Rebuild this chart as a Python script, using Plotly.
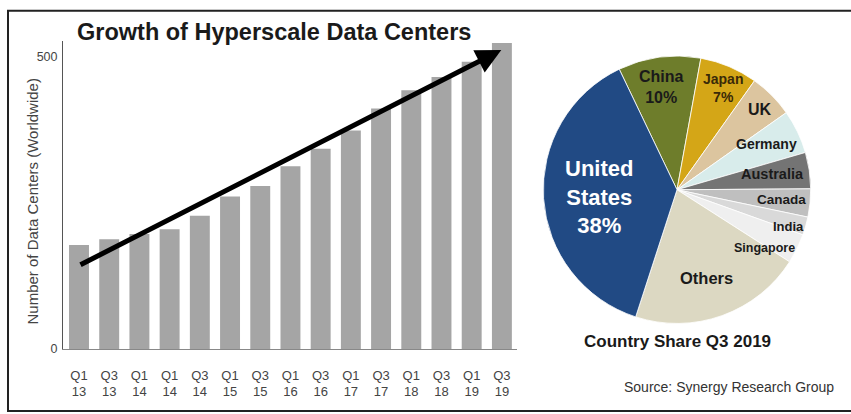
import plotly.graph_objects as go

# ---- data ----
quarters = ["Q1<br>13", "Q3<br>13", "Q1<br>14", "Q1<br>14", "Q3<br>14", "Q1<br>15", "Q3<br>15",
            "Q1<br>16", "Q3<br>16", "Q1<br>17", "Q3<br>17", "Q1<br>18", "Q3<br>18", "Q1<br>19", "Q3<br>19"]
data_centers = [178, 188, 197, 205, 228, 261, 279, 313, 343, 374, 412, 443, 466, 492, 524]
trend_start = 143
trend_end = 512

countries = ["China", "Japan", "UK", "Germany", "Australia", "Canada", "India", "Singapore", "Others", "United States"]
shares = [10, 7, 5.4, 5.3, 4.4, 3.4, 2.2, 3.6, 21.0, 38]
pie_colors = ["#6e7d2b", "#d4a617", "#dcc59f", "#d8eceb", "#747474", "#bfbfbf", "#d9d9d9",
              "#efefef", "#dcd8c2", "#214a84"]

FONT = "Liberation Sans, Arial, sans-serif"
W, H = 851, 414

x_idx = list(range(len(quarters)))

fig = go.Figure()
fig.add_trace(go.Bar(x=x_idx, y=data_centers, marker=dict(color="#a5a5a5", line=dict(width=0)),
                     width=0.66, xaxis="x", yaxis="y", showlegend=False, hoverinfo="y"))

fig.add_trace(go.Pie(labels=countries, values=shares, sort=False, direction="clockwise",
                     rotation=-25.6, marker=dict(colors=pie_colors, line=dict(color="white", width=0.8)),
                     textinfo="none", showlegend=False,
                     domain=dict(x=[541 / W, 813 / W], y=[(H - 329) / H, (H - 57) / H])))

fig.update_layout(
    width=W, height=H, margin=dict(l=0, r=0, t=0, b=0),
    paper_bgcolor="white", plot_bgcolor="white",
    font=dict(family=FONT, color="#444"),
    xaxis=dict(domain=[63 / W, 517 / W], range=[-0.53, 14.5], tickmode="array",
               tickvals=x_idx, ticktext=quarters, showgrid=False, zeroline=False,
               showline=True, linecolor="#888", linewidth=1, ticks="", ticklabelstandoff=14,
               tickfont=dict(size=13, color="#444", family=FONT)),
    yaxis=dict(domain=[(H - 355) / H, (H - 42) / H], range=[0, 527], tickmode="array",
               tickvals=[0, 500], ticktext=["0", "500"], showgrid=False, zeroline=False,
               showline=True, linecolor="#555", linewidth=1, ticks="", ticklabelstandoff=2,
               tickfont=dict(size=12.5, color="#444", family=FONT)),
)

# frame
fig.add_shape(type="rect", xref="paper", yref="paper", x0=8 / W, x1=1.01, y0=-0.01, y1=(H - 11) / H,
              line=dict(color="#222", width=2))

# trend arrow
fig.add_annotation(x=13.98, y=trend_end, ax=0, ay=trend_start, xref="x", yref="y", axref="x", ayref="y",
                   showarrow=True, arrowhead=2, arrowsize=1.0, arrowwidth=5, arrowcolor="#000", text="")


def label(txt, px, py, size, color, bold=True, angle=0):
    fig.add_annotation(text=("<b>" + txt + "</b>") if bold else txt, x=px / W, y=(H - py) / H,
                       xref="paper", yref="paper", xanchor="center", yanchor="middle", textangle=angle,
                       showarrow=False, font=dict(size=size, color=color, family=FONT))


# titles
label("Growth of Hyperscale Data Centers", 274, 33, 23.5, "#1a1a1a")
label("Number of Data Centers (Worldwide)", 33, 205, 15, "#444", bold=False, angle=-90)
label("Country Share Q3 2019", 677, 347, 17, "#1a1a1a")
label("Source: Synergy Research Group", 729, 394, 14, "#333", bold=False)

# pie labels
pie_labels = [
    ("China<br>10%", 661, 88.5, 16, "#1a1a1a"),
    ("Japan<br>7%", 723, 90, 14, "#3a2a08"),
    ("UK", 760, 111, 16, "#1a1a1a"),
    ("Germany", 766, 146, 14, "#1a1a1a"),
    ("Australia", 772, 177, 14.5, "#1a1a1a"),
    ("Canada", 781, 203, 13.5, "#1a1a1a"),
    ("India", 788, 230, 13, "#1a1a1a"),
    ("Singapore", 764, 252, 12.5, "#1a1a1a"),
    ("Others", 706, 283, 16.5, "#1a1a1a"),
    ("United<br>States<br>38%", 599, 200, 22, "#ffffff"),
]
for txt, px, py, sz, col in pie_labels:
    label(txt, px, py, sz, col)

fig.write_html("out.html")
